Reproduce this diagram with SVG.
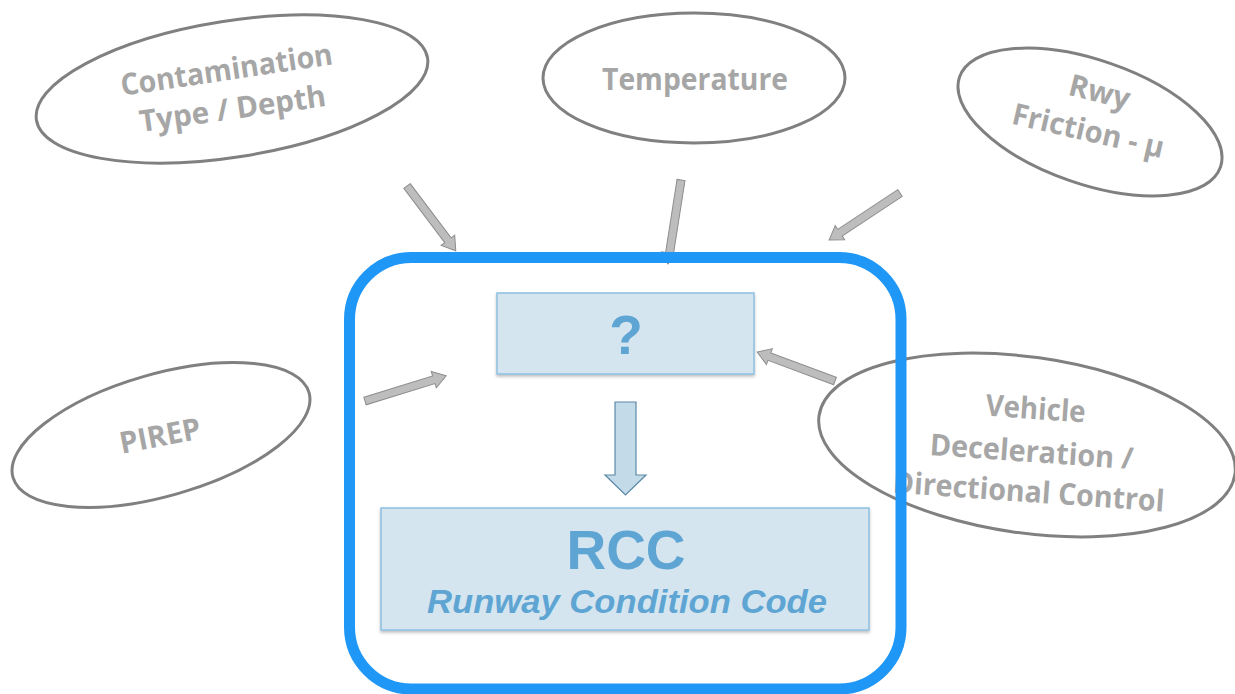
<svg xmlns="http://www.w3.org/2000/svg" width="1235" height="694" viewBox="0 0 1235 694">
<defs>
<style>
.ell{fill:none;stroke:#808080;stroke-width:3}
.et{font-family:"Open Sans","Liberation Sans",sans-serif;font-weight:700;font-size:30px;fill:#a6a6a6;text-anchor:middle}
.gar{fill:#bdbdbd;stroke:#8c8c8c;stroke-width:1}
.box{fill:#d5e5ef;stroke:#8dbfe0;stroke-width:1.5}
.bt{font-family:"Liberation Sans",Arial,sans-serif;font-weight:700;fill:#5fa5d3;text-anchor:middle}
</style>
<filter id="sh" x="-5%" y="-5%" width="110%" height="120%">
<feDropShadow dx="0" dy="2" stdDeviation="1.5" flood-color="#000" flood-opacity="0.25"/>
</filter>
</defs>
<rect width="1235" height="694" fill="#ffffff"/>

<g id="contamination">
<ellipse class="ell" cx="232" cy="89" rx="198" ry="68" transform="rotate(-9 232 89)"/>
<text class="et" x="228" y="80" textLength="214" lengthAdjust="spacingAndGlyphs" transform="rotate(-8.5 228 80)">Contamination</text>
<text class="et" x="234" y="119" textLength="188" lengthAdjust="spacingAndGlyphs" transform="rotate(-8 234 119)">Type / Depth</text>
</g>

<g id="temperature">
<ellipse class="ell" cx="694" cy="78" rx="151" ry="65"/>
<text class="et" x="695" y="90" textLength="186" lengthAdjust="spacingAndGlyphs">Temperature</text>
</g>

<g id="friction">
<ellipse class="ell" cx="1090" cy="122" rx="138" ry="62" transform="rotate(19 1090 122)"/>
<text class="et" x="1097" y="102" textLength="62" lengthAdjust="spacingAndGlyphs" transform="rotate(14 1097 102)">Rwy</text>
<text class="et" x="1086" y="141" textLength="155" lengthAdjust="spacingAndGlyphs" transform="rotate(13 1086 141)">Friction - μ</text>
</g>

<g id="pirep">
<ellipse class="ell" cx="161" cy="435" rx="154" ry="61" transform="rotate(-16 161 435)"/>
<text class="et" x="162" y="446" textLength="82" lengthAdjust="spacingAndGlyphs" transform="rotate(-11 162 446)">PIREP</text>
</g>

<g id="vehicle">
<ellipse class="ell" cx="1027" cy="445" rx="210" ry="88" transform="rotate(8 1027 445)"/>
<text class="et" x="1035" y="419" textLength="100" lengthAdjust="spacingAndGlyphs" transform="rotate(4 1035 419)">Vehicle</text>
<text class="et" x="1031" y="462" textLength="204" lengthAdjust="spacingAndGlyphs" transform="rotate(4 1031 462)">Deceleration /</text>
<text class="et" x="1028" y="502" textLength="272" lengthAdjust="spacingAndGlyphs" transform="rotate(4 1028 502)">Directional Control</text>
</g>

<g id="connectors">
<path class="gar" d="M0,-4 H68 V-8.5 L81,0 L68,8.5 V4 H0 Z" transform="translate(407 186) rotate(53)"/>
<path class="gar" d="M0,-4 H74 V-8 L85,0 L74,8 V4 H0 Z" transform="translate(681 180) rotate(98.9)"/>
<path class="gar" d="M0,-4 H72 V-8.5 L85,0 L72,8.5 V4 H0 Z" transform="translate(900 193) rotate(146.5)"/>
<path class="gar" d="M0,-4 H72 V-8.5 L85,0 L72,8.5 V4 H0 Z" transform="translate(365 401) rotate(-17.2)"/>
<path class="gar" d="M0,-4 H70 V-8.5 L83,0 L70,8.5 V4 H0 Z" transform="translate(835 381) rotate(200.4)"/>
<path d="M615,402 H636 V475 H646 L625.5,495 L605,475 H615 Z" fill="#c3dbe9" stroke="#5b88a6" stroke-width="1.2"/>
</g>

<g id="frame">
<rect x="349.5" y="257.5" width="551.5" height="431.5" rx="62" ry="62" fill="none" stroke="#1f97f7" stroke-width="11"/>
</g>

<g id="question">
<rect class="box" x="497" y="293" width="257" height="81" filter="url(#sh)"/>
<text class="bt" x="626" y="354" font-size="55">?</text>
</g>

<g id="rcc">
<rect class="box" x="381" y="508" width="488" height="122" filter="url(#sh)"/>
<text class="bt" x="626" y="569" font-size="55">RCC</text>
<text class="bt" x="627" y="613" font-size="33" font-style="italic" textLength="400" lengthAdjust="spacingAndGlyphs">Runway Condition Code</text>
</g>
</svg>
